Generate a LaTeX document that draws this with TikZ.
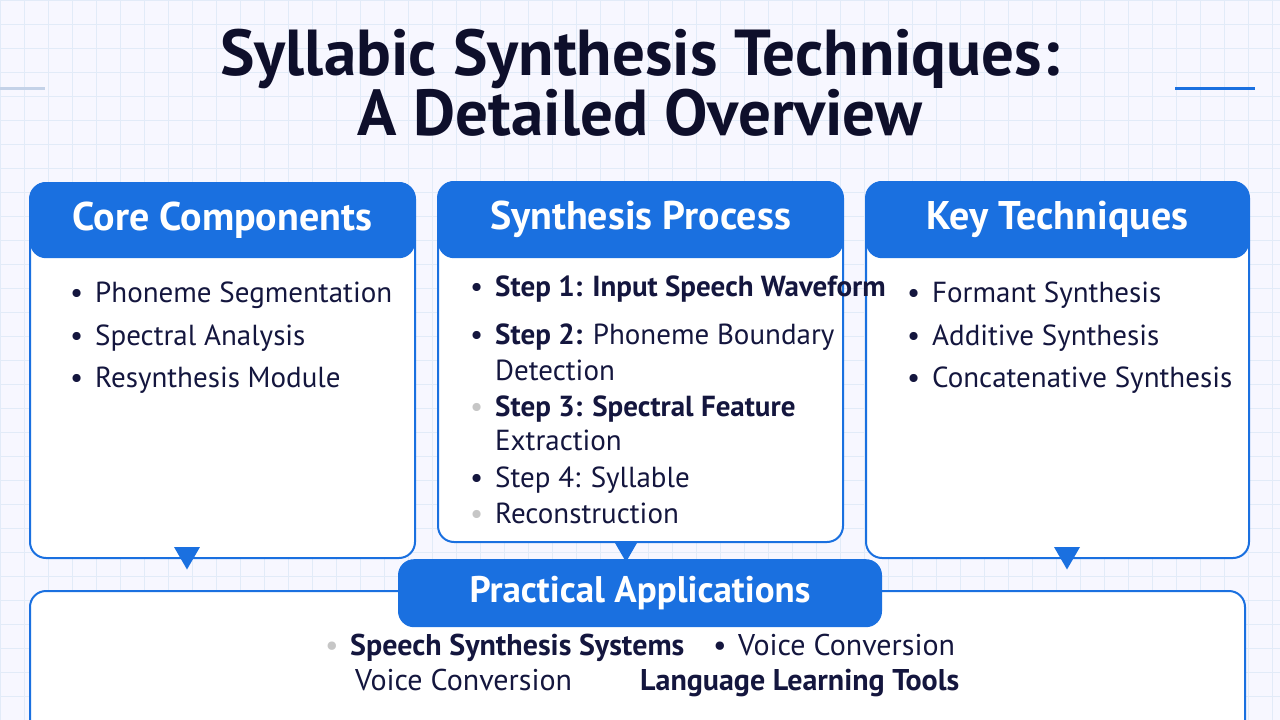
\documentclass[tikz,border=0pt]{standalone}
\usepackage{fontspec}
\setmainfont{PT Sans}
\usepackage{xcolor}
\usepackage{tikz}
\usetikzlibrary{shapes.geometric, positioning}
\definecolor{hdrblue}{RGB}{26,112,224}
\definecolor{inkblue}{RGB}{20,22,62}
\definecolor{gridblue}{RGB}{226,235,248}
\definecolor{paleblue}{RGB}{196,210,232}
\newcommand{\bul}{\makebox[25pt][l]{\textbullet}}
\newcommand{\fbul}{\makebox[25pt][l]{\textcolor{gray!45}{\textbullet}}}
\newcommand{\nobul}{\makebox[25pt][l]{}}
\tikzstyle{panel} = [rectangle, rounded corners=16pt, draw=hdrblue, line width=2pt, fill=white]
\tikzstyle{header} = [rectangle, rounded corners=16pt, fill=hdrblue, text=white, font=\fontsize{40}{46}\selectfont\bfseries]
\tikzstyle{pointer} = [regular polygon, regular polygon sides=3, shape border rotate=180, fill=hdrblue, minimum size=30pt, inner sep=0pt]
\tikzstyle{item} = [anchor=base west, inner sep=0pt, text=inkblue, font=\fontsize{29}{34}\selectfont]
\tikzstyle{appitem} = [item, font=\fontsize{30}{36}\selectfont]
\tikzstyle{titletext} = [align=center, inner sep=0pt, text=inkblue!70!black, font=\fontsize{65}{58}\selectfont\bfseries]

\begin{document}
\begin{tikzpicture}[x=1pt, y=-1pt]
\useasboundingbox (0,0) rectangle (1280,720);
\clip (0,0) rectangle (1280,720);
\fill[white!97!blue] (0,0) rectangle (1280,720);
\draw[gridblue, line width=0.8pt] (0,0) grid[xstep=24pt, ystep=24pt] (1280,720);
\draw[paleblue, line width=3pt] (0,88) -- (45,88);
\draw[hdrblue, line width=3pt] (1175,88) -- (1255,88);

% title
\node (title) [titletext, anchor=south] at (640,137) {Syllabic Synthesis Techniques:\\A Detailed Overview};

% three panels
\node (core) [panel, minimum width=385pt, minimum height=375pt, anchor=north] at (222.5,182) {};
\node (corehdr) [header, minimum width=385pt, minimum height=76pt, anchor=north] at (core.north) {Core Components};
\node (proc) [panel, minimum width=405pt, minimum height=360pt, anchor=north] at (640.5,181) {};
\node (prochdr) [header, minimum width=405pt, minimum height=77pt, anchor=north] at (proc.north) {Synthesis Process};
\node (tech) [panel, minimum width=383pt, minimum height=376pt, anchor=north] at (1057.5,181) {};
\node (techhdr) [header, minimum width=383pt, minimum height=77pt, anchor=north] at (tech.north) {Key Techniques};

% bottom panel
\node (apps) [panel, minimum width=1215pt, minimum height=200pt, anchor=north] at (637.5,590) {};
\node (appshdr) [header, minimum width=484pt, minimum height=68pt, anchor=north, font=\fontsize{37}{42}\selectfont\bfseries] at (640,559) {Practical Applications};

% pointers
\node (coretip) [pointer] at ([xshift=-35.5pt, yshift=4.5pt]core.south) {};
\node (proctip) [pointer, minimum size=26pt] at ([xshift=-14.5pt, yshift=-6pt]proc.south) {};
\node (techtip) [pointer] at ([xshift=9.5pt, yshift=4.5pt]tech.south) {};

% core components
\node (c1) [item] at (70,302) {\bul Phoneme Segmentation};
\node (c2) [item] at (70,345) {\bul Spectral Analysis};
\node (c3) [item] at (70,387) {\bul Resynthesis Module};

% synthesis process
\node (s1) [item] at (470,296) {\bul\textbf{Step 1: Input Speech Waveform}};
\node (s2) [item] at (470,344) {\bul\textbf{Step 2:} Phoneme Boundary};
\node (s2b) [item] at (470,380) {\nobul Detection};
\node (s3) [item] at (470,416) {\fbul\textbf{Step 3: Spectral Feature}};
\node (s3b) [item] at (470,450) {\nobul Extraction};
\node (s4) [item] at (470,487) {\bul Step 4: Syllable};
\node (s4b) [item] at (470,523) {\fbul Reconstruction};

% key techniques
\node (k1) [item] at (907,302) {\bul Formant Synthesis};
\node (k2) [item] at (907,345) {\bul Additive Synthesis};
\node (k3) [item] at (907,387) {\bul Concatenative Synthesis};

% applications
\node (a1) [appitem] at (325,655) {\fbul\textbf{Speech Synthesis Systems}};
\node (a2) [appitem] at (713,655) {\bul Voice Conversion};
\node (a3) [appitem] at (355,690) {Voice Conversion};
\node (a4) [appitem] at (640,690) {\textbf{Language Learning Tools}};
\end{tikzpicture}
\end{document}
